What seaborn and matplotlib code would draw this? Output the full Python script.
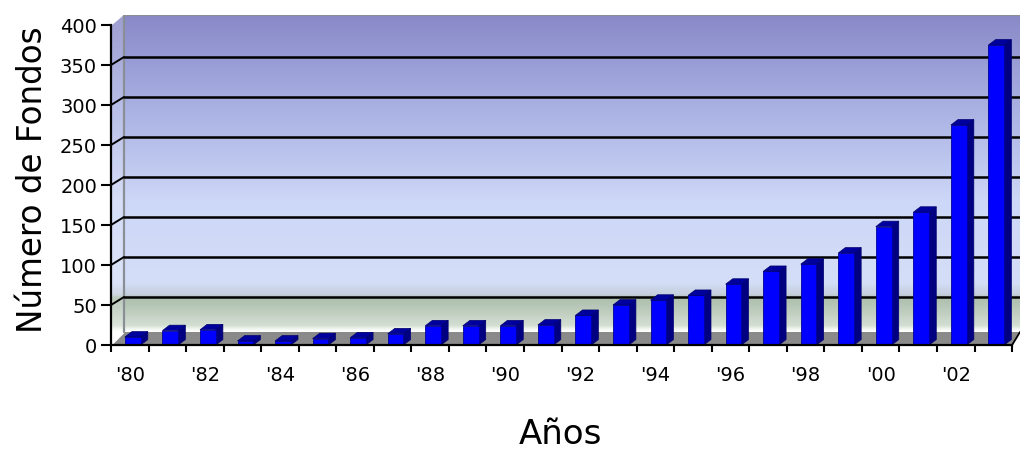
import numpy as np
import pandas as pd
import matplotlib
matplotlib.use("Agg")
import matplotlib.pyplot as plt
from matplotlib.colors import LinearSegmentedColormap
from matplotlib.patches import Polygon
import seaborn as sns

# Investment funds created per year
years = ["'80", "'81", "'82", "'83", "'84", "'85", "'86", "'87", "'88", "'89",
         "'90", "'91", "'92", "'93", "'94", "'95", "'96", "'97", "'98", "'99",
         "'00", "'01", "'02", "'03"]
funds = [10, 18, 19, 5, 5, 8, 9, 14, 24, 24,
         24, 25, 37, 50, 56, 62, 76, 92, 101, 115,
         148, 166, 275, 375]
y_ticks = [0, 50, 100, 150, 200, 250, 300, 350, 400]
shown_year_labels = years[::2]

sns.set_theme(style="white")
plt.rcParams["font.family"] = ["DejaVu Sans"]

fig = plt.figure(figsize=(10.25, 4.58), dpi=100)
fig.patch.set_facecolor("white")
ax = fig.add_axes([0.10829, 0.24672, 0.88683, 0.72052])
ax.patch.set_visible(False)

# pseudo-3D box geometry (data units)
X0, X1 = -0.5, 23.5      # front plane
XR = 23.71               # right edge of back wall
XB = -0.154              # left edge of back wall
YT = 412.5               # top of back wall
WALL_DY = 10.0           # vertical shift of back wall gridlines
FLOOR_Y = 16.25          # back edge of the floor

# --- back wall gradient -------------------------------------------------
stops = [(0.0, "#ffffff"), (16.5, "#ffffff"), (19.5, "#eef3ee"),
         (24.0, "#d2ded2"), (45.0, "#bac9ba"), (59.0, "#adbead"),
         (62.0, "#c4cedc"), (78.0, "#d4def8"), (180.0, "#cdd7f7"),
         (300.0, "#a8b0e2"), (YT, "#8989c8")]
cmap = LinearSegmentedColormap.from_list(
    "wall", [(p / YT, c) for p, c in stops])
grad = np.linspace(0, 1, 800).reshape(-1, 1)
im = ax.imshow(grad, cmap=cmap, origin="lower", aspect="auto",
               extent=(X0, XR, 0, YT), interpolation="bilinear", zorder=0)
wall_shape = Polygon([(X0, 0), (X0, 398.75), (XB, YT), (XR, YT),
                      (XR, FLOOR_Y), (X1, 0)], closed=True,
                     transform=ax.transData, facecolor="none", edgecolor="none")
ax.add_patch(wall_shape)
im.set_clip_path(wall_shape)

# left side wall, slightly lighter
ax.add_patch(Polygon([(X0, 0), (X0, 398.75), (XB, YT), (XB, FLOOR_Y)],
                     closed=True, facecolor="white", alpha=0.18,
                     edgecolor="none", zorder=0.5))

# floor
ax.add_patch(Polygon([(X0, 0), (XB, FLOOR_Y), (XR, FLOOR_Y), (X1, 0)],
                     closed=True, facecolor="#8a8a8a", edgecolor="none",
                     zorder=1))
ax.plot([X0, XB], [0, FLOOR_Y], color="white", lw=1.5, zorder=1.2)
ax.plot([X1, XR], [0, FLOOR_Y], color="black", lw=1.3, zorder=1.2)

# wall borders
ax.plot([XB, XB], [FLOOR_Y, YT], color="#8a8f96", lw=1.6, zorder=1.5)
ax.plot([XB, XR], [YT, YT], color="#8a8f96", lw=1.6, zorder=1.5)

# gridlines on the back wall plus the slanted connectors on the side wall
for v in y_ticks[1:-1]:
    ax.plot([XB, XR], [v + WALL_DY, v + WALL_DY], color="black", lw=1.8,
            zorder=2)
    ax.plot([X0, XB], [v, v + WALL_DY], color="black", lw=1.4, zorder=2)

# --- bars -----------------------------------------------------------------
df = pd.DataFrame({"year": years, "funds": funds})
sns.barplot(data=df, x="year", y="funds", color="#0000ff", saturation=1,
            width=0.42, errorbar=None, linewidth=0.6, edgecolor="#00009a",
            ax=ax, zorder=5)
bars = [p for p in ax.patches if hasattr(p, "get_width") and p.get_zorder() == 5]

BAR_SHIFT = 0.08
DDX, DDY = 0.19, 6.8      # bar depth
for p in bars:
    p.set_x(p.get_x() + BAR_SHIFT)
    x0 = p.get_x()
    x1 = x0 + p.get_width()
    h = p.get_height()
    side = Polygon([(x1, 0), (x1 + DDX, DDY), (x1 + DDX, h + DDY), (x1, h)],
                   closed=True, facecolor="#000080", edgecolor="#000070",
                   lw=0.5, zorder=4.9)
    top = Polygon([(x0, h), (x0 + DDX, h + DDY), (x1 + DDX, h + DDY), (x1, h)],
                  closed=True, facecolor="#00009c", edgecolor="#000070",
                  lw=0.5, zorder=5.1)
    ax.add_patch(side)
    ax.add_patch(top)

# --- axes, ticks and labels ----------------------------------------------
ax.set_xlim(X0, XR)
ax.set_ylim(0, YT)

ax.set_yticks(y_ticks)
ax.set_yticklabels([str(v) for v in y_ticks])
ax.tick_params(axis="y", which="major", direction="out", length=7, width=1.5,
               color="black", left=True, labelsize=14, pad=3,
               labelcolor="black")

ax.set_xticks(np.arange(-0.5, 24, 1.0))
ax.set_xticklabels([])
ax.set_xticks(np.arange(0, 24, 2), minor=True)
ax.set_xticklabels(shown_year_labels, minor=True)
ax.tick_params(axis="x", which="major", direction="out", length=5, width=1.5,
               color="black", bottom=True)
ax.tick_params(axis="x", which="minor", length=0, pad=15, labelsize=14,
               labelcolor="black", bottom=True)
ax.set_xlabel("")
ax.set_ylabel("")

for side_name in ("top", "right"):
    ax.spines[side_name].set_visible(False)
ax.spines["left"].set_bounds(0, 400)
ax.spines["bottom"].set_bounds(X0, X1)
for side_name in ("left", "bottom"):
    ax.spines[side_name].set_color("black")
    ax.spines[side_name].set_linewidth(1.6)
    ax.spines[side_name].set_zorder(6)

fig.text(33 / 1025, 1 - 180 / 458, "Número de Fondos", rotation=90,
         ha="center", va="center", fontsize=23.5, color="black")
fig.text(560 / 1025, 1 - 435 / 458, "Años", ha="center", va="center",
         fontsize=24.5, color="black")

fig.savefig("out.png", dpi=100)
